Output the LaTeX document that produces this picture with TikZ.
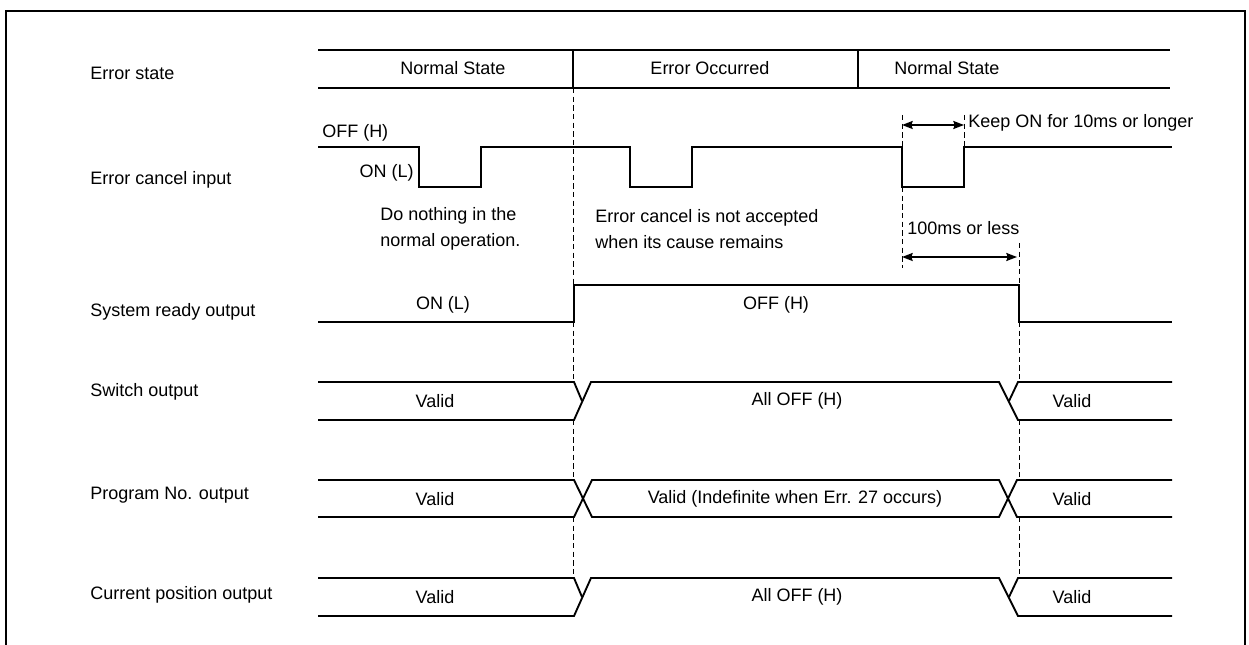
\documentclass[tikz,border=0pt]{standalone}
\usepackage{fontspec}
\setmainfont{Liberation Sans}
\usetikzlibrary{arrows.meta}

\begin{document}
\begin{tikzpicture}[x=0.75pt,y=-0.75pt,
    wave/.style={line width=1.4pt},
    guide/.style={line width=0.5pt, dash pattern=on 4pt off 2.5pt},
    lbl/.style={font=\fontsize{13.5}{20}\selectfont, inner sep=0pt},
    dim/.style={line width=1.3pt, {Stealth[length=8pt,width=6pt,inset=1pt]}-{Stealth[length=8pt,width=6pt,inset=1pt]}}]
    \useasboundingbox (0,0) rectangle (1249,645);

    % Frame
    \draw[line width=1.5pt] (6,645) -- (6,11) -- (1245,11) -- (1245,645);

    % Signal names
    \foreach \y/\nm/\txt in {73/nstate/Error state, 180/ncancel/Error cancel input,
        312/nready/System ready output, 392/nswitch/Switch output,
        495/nprog/Program No. output, 595/npos/Current position output}
        \node[lbl, anchor=west] (\nm) at (90,\y) {\txt};

    % Error state row
    \draw[wave] (318,50) -- (1170,50);
    \draw[wave] (318,88) -- (1170,88);
    \draw[wave] (573,50) -- (573,88);
    \draw[wave] (858,50) -- (858,88);
    \node[lbl] (st1) at (453,68) {Normal State};
    \node[lbl] (st2) at (710,68) {Error Occurred};
    \node[lbl] (st3) at (947,68) {Normal State};

    % Error cancel input
    \draw[wave] (318,147) -- (419,147) -- (419,187) -- (481,187) -- (481,147)
        -- (630,147) -- (630,187) -- (692,187) -- (692,147)
        -- (902,147) -- (902,187) -- (964,187) -- (964,147) -- (1172,147);
    \node[lbl, anchor=west] (cxoff) at (322,133) {OFF (H)};
    \node[lbl, anchor=east] (cxon) at (414,173) {ON (L)};
    \node[lbl, anchor=west, align=left] (note1) at (380,229) {Do nothing in the\\normal operation.};
    \node[lbl, anchor=west, align=left] (note2) at (595,229) {Error cancel is not accepted\\when its cause remains};

    % Pulse width and delay
    \draw[guide] (902,115) -- (902,147);
    \draw[guide] (964,115) -- (964,147);
    \draw[guide] (902,187) -- (902,268);
    \draw[guide] (1019,243) -- (1019,285);
    \coordinate (k1) at (902,125);
    \coordinate (k2) at (964,125);
    \coordinate (d1) at (902,257);
    \coordinate (d2) at (1017,257);
    \draw[dim] (k1) -- (k2);
    \draw[dim] (d1) -- (d2);
    \node[lbl, anchor=west] (keep) at (968,123) {Keep ON for 10ms or longer};
    \node[lbl, anchor=west] (lim) at (907,228) {100ms or less};

    % System ready output
    \draw[wave] (318,322) -- (574,322) -- (574,285) -- (1019,285) -- (1019,322) -- (1172,322);
    \node[lbl] (rdyon) at (443,305) {ON (L)};
    \node[lbl] (rdyoff) at (776,305) {OFF (H)};

    % Switch output and current position output
    \foreach \t in {382,578}{
        \draw[wave] (318,\t) -- (574,\t) -- (582,\t+19);
        \draw[wave] (318,\t+38) -- (574,\t+38) -- (591,\t) -- (999,\t) -- (1018,\t+38) -- (1172,\t+38);
        \draw[wave] (1009,\t+19) -- (1018,\t) -- (1172,\t);
    }
    \node[lbl] (swv1) at (435,401) {Valid};
    \node[lbl] (swoff) at (797,401) {All OFF (H)};
    \node[lbl] (swv2) at (1072,401) {Valid};
    \node[lbl] (posv1) at (435,597) {Valid};
    \node[lbl] (posoff) at (797,597) {All OFF (H)};
    \node[lbl] (posv2) at (1072,597) {Valid};

    % Program No. output
    \draw[wave] (318,480) -- (574,480) -- (592,517) -- (999,517) -- (1017,480) -- (1172,480);
    \draw[wave] (318,517) -- (574,517) -- (592,480) -- (999,480) -- (1017,517) -- (1172,517);
    \node[lbl] (pgv1) at (435,499) {Valid};
    \node[lbl] (pgmid) at (795,499) {Valid (Indefinite when Err. 27 occurs)};
    \node[lbl] (pgv2) at (1072,499) {Valid};

    % Timing guides
    \foreach \x in {573,1019}
        \foreach \a/\b in {322/382, 420/480, 517/578}
            \draw[guide] (\x,\a) -- (\x,\b);
    \draw[guide] (573,88) -- (573,285);
\end{tikzpicture}
\end{document}
